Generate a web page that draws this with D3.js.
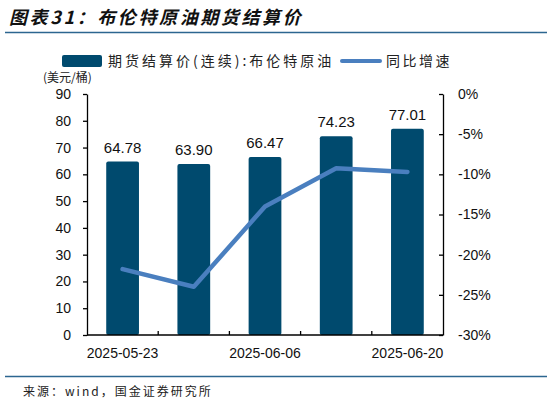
<!DOCTYPE html>
<html>
<head>
<meta charset="utf-8">
<script src="https://cdn.jsdelivr.net/npm/d3@7"></script>
<style>
  body { margin: 0; background: #fff; }
  svg { display: block; }
</style>
</head>
<body>
<script>
// data
const dates = ["2025-05-23", "2025-05-30", "2025-06-06", "2025-06-13", "2025-06-20"];
const prices = [64.78, 63.90, 66.47, 74.23, 77.01];
const yoy = [-21.8, -24.0, -14.0, -9.25, -9.7];
const shownDates = ["2025-05-23", "2025-06-06", "2025-06-20"];
const priceTicks = [0, 10, 20, 30, 40, 50, 60, 70, 80, 90];
const yoyTicks = [0, -5, -10, -15, -20, -25, -30];

const width = 550, height = 406;
const plotL = 87, plotR = 443, plotT = 94, plotB = 335;
const barColor = "#004a6e", lineColor = "#4a7fbf", ruleColor = "#2c6690";
const cjk = "'Noto Sans CJK SC', sans-serif";
const num = "'Liberation Sans', Arial, sans-serif";

const svg = d3.select("body").append("svg").attr("width", width).attr("height", height);

// title + rules
svg.append("text").attr("x", 9).attr("y", 24).text("图表31：布伦特原油期货结算价")
    .attr("font-family", cjk).attr("font-size", 18).attr("font-weight", "bold")
    .attr("font-style", "italic").attr("letter-spacing", 2.6).attr("fill", "#111");
svg.append("line").attr("x1", 5).attr("x2", 547).attr("y1", 32.5).attr("y2", 32.5)
    .attr("stroke", ruleColor).attr("stroke-width", 1.5);
svg.append("line").attr("x1", 5).attr("x2", 547).attr("y1", 376.5).attr("y2", 376.5)
    .attr("stroke", ruleColor).attr("stroke-width", 1.5);
svg.append("text").attr("x", 23).attr("y", 396).text("来源：wind，国金证券研究所")
    .attr("font-family", cjk).attr("font-size", 12).attr("letter-spacing", 2).attr("fill", "#222");

// legend
svg.append("rect").attr("x", 62).attr("y", 55).attr("width", 40).attr("height", 12).attr("rx", 2).attr("fill", barColor);
svg.append("text").attr("x", 108).attr("y", 66).text("期货结算价(连续):布伦特原油")
    .attr("font-family", cjk).attr("font-size", 14).attr("letter-spacing", 3).attr("fill", "#222");
svg.append("line").attr("x1", 342).attr("x2", 380).attr("y1", 61).attr("y2", 61)
    .attr("stroke", lineColor).attr("stroke-width", 4).attr("stroke-linecap", "round");
svg.append("text").attr("x", 386).attr("y", 66).text("同比增速")
    .attr("font-family", cjk).attr("font-size", 14).attr("letter-spacing", 2.5).attr("fill", "#222");
svg.append("text").attr("x", 43).attr("y", 82).text("(美元/桶)")
    .attr("font-family", cjk).attr("font-size", 12).attr("fill", "#222");

// scales
const x = d3.scaleBand().domain(dates).range([plotL, plotR]).padding(0);
const yL = d3.scaleLinear().domain([0, 90]).range([plotB, plotT]);
const yR = d3.scaleLinear().domain([-30, 0]).range([plotB, plotT]);
const barW = x.bandwidth() * 0.46;

// bars
svg.append("g").selectAll("rect").data(dates).enter().append("rect")
    .attr("x", (d) => x(d) + (x.bandwidth() - barW) / 2)
    .attr("y", (d, i) => yL(prices[i]))
    .attr("width", barW)
    .attr("height", (d, i) => plotB - yL(prices[i]))
    .attr("rx", 2)
    .attr("fill", barColor);

svg.append("g").selectAll("text").data(dates).enter().append("text")
    .attr("x", (d) => x(d) + x.bandwidth() / 2)
    .attr("y", (d, i) => yL(prices[i]) - 9)
    .attr("text-anchor", "middle")
    .attr("font-family", num).attr("font-size", 15).attr("fill", "#111")
    .text((d, i) => prices[i].toFixed(2));

// yoy line
const line = d3.line().x((d, i) => x(dates[i]) + x.bandwidth() / 2).y((d) => yR(d));
svg.append("path").datum(yoy).attr("d", line)
    .attr("fill", "none").attr("stroke", lineColor).attr("stroke-width", 4.5)
    .attr("stroke-linejoin", "round").attr("stroke-linecap", "round");

// axes
function styleAxis(g) {
    g.selectAll("path, line").attr("stroke", "#000").attr("stroke-width", 1.3);
    g.selectAll("text").attr("font-family", num).attr("font-size", 14).attr("fill", "#111");
}

svg.append("g").attr("transform", `translate(${plotL},0)`)
    .call(d3.axisLeft(yL).tickValues(priceTicks).tickSize(4).tickSizeOuter(0).tickPadding(12))
    .call(styleAxis);

svg.append("g").attr("transform", `translate(${plotR},0)`)
    .call(d3.axisRight(yR).tickValues(yoyTicks).tickSize(-4).tickSizeOuter(0).tickPadding(15)
        .tickFormat((d) => d + "%"))
    .call(styleAxis);

// x axis: inward ticks between categories, labels every other week
const xb = svg.append("g").attr("transform", `translate(0,${plotB})`);
xb.call(d3.axisBottom(x).tickValues(shownDates).tickSize(0).tickPadding(13)).call(styleAxis);
xb.select(".domain").attr("d", `M${plotL},0H${plotR}`);
xb.selectAll(".sep").data(dates.slice(1)).enter().append("line").attr("class", "sep")
    .attr("x1", (d) => x(d)).attr("x2", (d) => x(d)).attr("y1", 0).attr("y2", -4)
    .attr("stroke", "#000").attr("stroke-width", 1.3);
</script>
</body>
</html>
